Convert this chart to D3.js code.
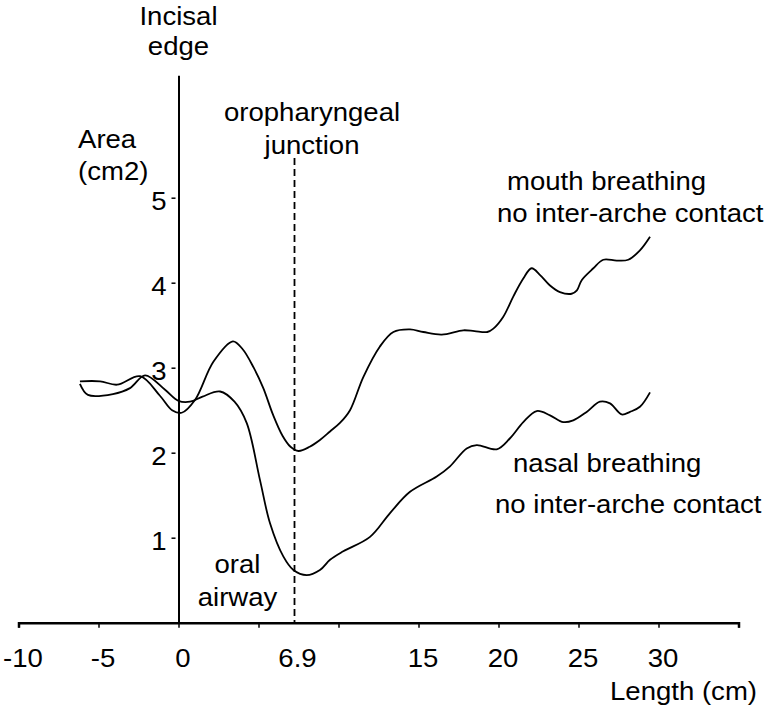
<!DOCTYPE html>
<html><head><meta charset="utf-8">
<script src="https://cdn.jsdelivr.net/npm/d3@7"></script>
<style>
body{margin:0;background:#fff}
svg text{font-family:"Liberation Sans",Arial,sans-serif;font-size:26px;fill:#000}
</style></head><body>
<svg id="c" width="782" height="721"></svg>
<script>
// ---- data ----
const lengthMouth = [-6.16,-4.9,-3.84,-2.4,-1.16,-0.4,0.2,1.03,2.18,3.4,4.0,4.7,5.3,5.9,6.5,7.0,7.5,8.2,8.84,9.47,10.09,10.72,11.55,12.59,13.43,14.47,15.3,16.45,17.8,18.5,19.3,19.68,20.3,20.93,21.55,22.07,22.6,23.2,23.84,24.57,24.9,25.2,25.93,26.55,27.39,28.11,28.84,29.47];
const areaMouth   = [2.84,2.84,2.80,2.90,2.67,2.50,2.47,2.62,3.07,3.31,3.22,3.00,2.76,2.45,2.20,2.07,2.02,2.07,2.15,2.25,2.35,2.50,2.89,3.25,3.42,3.45,3.42,3.39,3.44,3.43,3.42,3.46,3.60,3.84,4.05,4.17,4.09,3.97,3.89,3.87,3.91,4.03,4.17,4.27,4.26,4.27,4.38,4.54];
const lengthNasal = [-6.16,-5.66,-4.1,-3.03,-2.09,-0.84,0,0.72,1.5,2.6,3.5,4.26,5.09,5.72,6.55,7.18,8.01,8.84,9.47,10.3,11.97,13.22,14.47,16.14,16.97,18.01,18.64,19.89,20.72,21.55,22.39,23.22,24.05,24.67,25.51,26.34,26.97,27.7,28.22,28.84,29.47];
const areaNasal   = [2.81,2.68,2.69,2.76,2.91,2.74,2.61,2.60,2.66,2.72,2.60,2.35,1.68,1.17,0.78,0.62,0.56,0.62,0.74,0.84,1.01,1.29,1.54,1.72,1.84,2.05,2.09,2.04,2.17,2.36,2.49,2.44,2.36,2.38,2.48,2.60,2.58,2.45,2.48,2.54,2.71];
const xTickValues = [-10,-5,0,5,10,15,20,25,30,35];
const xTickLabels = ["-10","-5","0","","","15","20","25","30",""];
const yTickValues = [1,2,3,4,5];
const yTickLabels = ["1","2","3","4","5"];
const junctionLength = 7.25;
const junctionLabel = "6.9";
const xDomain = [-10,35];
const yDomain = [0,6.44];

// ---- drawing ----
const svg = d3.select("#c");
const x = d3.scaleLinear().domain(xDomain).range([18.5,738.5]);
const y = d3.scaleLinear().domain(yDomain).range([622.7,75.3]);
const SX = 1.06;

function label(str, px, py, anchor){
  svg.append("text").attr("transform",`translate(${px},${py}) scale(${SX},1)`)
     .attr("text-anchor",anchor||"start").text(str);
}

// x axis
const gx = svg.append("g").attr("transform",`translate(0,${y(0)})`)
  .call(d3.axisBottom(x).tickValues(xTickValues).tickSize(5).tickSizeOuter(5)
        .tickFormat(d=>xTickLabels[xTickValues.indexOf(d)]));
gx.attr("font-size",null).attr("font-family",null);
gx.select(".domain").attr("stroke","#000").attr("stroke-width",2.5);
gx.selectAll(".tick line").attr("stroke","#000").attr("stroke-width",1.5);
gx.selectAll(".tick text").attr("y",null).attr("dy",null)
  .attr("transform",`translate(4,44) scale(${SX},1)`);
// junction tick label
label(junctionLabel, x(junctionLength)+3, y(0)+44, "middle");

// y axis
const gy = svg.append("g").attr("transform",`translate(${x(0)},0)`)
  .call(d3.axisLeft(y).tickValues(yTickValues).tickSize(7).tickSizeOuter(0)
        .tickFormat(d=>yTickLabels[yTickValues.indexOf(d)]));
gy.attr("font-size",null).attr("font-family",null);
gy.select(".domain").attr("stroke","#000").attr("stroke-width",2);
gy.selectAll(".tick line").attr("stroke","#000").attr("stroke-width",1.5).attr("x1",-3);
gy.selectAll(".tick text").attr("x",null).attr("dy",null)
  .attr("transform",`translate(-12,12) scale(${SX},1)`);

// junction dashed line
svg.append("line").attr("x1",x(junctionLength)).attr("x2",x(junctionLength))
  .attr("y1",158).attr("y2",y(0))
  .attr("stroke","#000").attr("stroke-width",1.8).attr("stroke-dasharray","7,4");

// curves
const line = d3.line().x(d=>x(d[0])).y(d=>y(d[1])).curve(d3.curveCatmullRom.alpha(0.5));
svg.append("path").attr("d",line(d3.zip(lengthMouth,areaMouth)))
  .attr("fill","none").attr("stroke","#000").attr("stroke-width",1.8);
svg.append("path").attr("d",line(d3.zip(lengthNasal,areaNasal)))
  .attr("fill","none").attr("stroke","#000").attr("stroke-width",1.8);

// annotations
label("Incisal", x(0), 25, "middle");
label("edge", x(0), 55, "middle");
label("Area", 78, 148, "start");
label("(cm2)", 78, 180, "start");
label("oropharyngeal", 312, 121, "middle");
label("junction", 312, 154, "middle");
label("mouth breathing", 507, 190, "start");
label("no inter-arche contact", 497, 222, "start");
label("nasal breathing", 513, 472, "start");
label("no inter-arche contact", 495, 513, "start");
label("oral", 237.5, 573, "middle");
label("airway", 237.5, 606, "middle");
label("Length (cm)", 757, 700, "end");
</script>
</body></html>
